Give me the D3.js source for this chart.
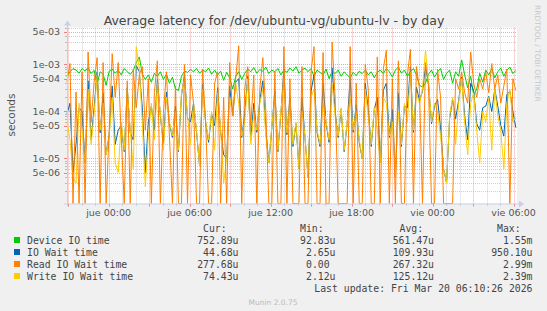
<!DOCTYPE html>
<html>
<head>
<meta charset="utf-8">
<script src="https://cdn.jsdelivr.net/npm/d3@7"></script>
<style>
  body { margin: 0; background: #f0f0f0; }
  svg { display: block; }
  text { font-family: "DejaVu Sans", sans-serif; }
  .mono { font-family: "DejaVu Sans Mono", monospace; white-space: pre; }
</style>
</head>
<body>
<svg id="chart" width="547" height="311"></svg>
<script>
// time window of the "by day" graph (33h20m)
const tStart = new Date(2026, 2, 18, 20, 55);
const tEnd = new Date(2026, 2, 20, 6, 15);
const tLast = new Date(2026, 2, 20, 6, 10);

const seriesNames = ["Device IO time", "IO Wait time", "Read IO Wait time", "Write IO Wait time"];
const seriesColors = ["#00cc00", "#0066b3", "#ff8000", "#ffcc00"];

// values in microseconds left to right
const deviceIO = [550,700,820,760,650,820,720,860,640,750,380,700,620,360,720,800,650,760,600,820,
  700,620,740,1100,1450,620,480,600,420,650,560,700,480,620,400,540,300,280,560,720,
  680,780,700,820,650,760,700,840,620,760,600,720,460,680,520,300,560,700,480,650,
  800,700,860,650,780,720,880,640,760,700,820,600,760,680,840,720,900,650,760,840,
  700,820,560,760,680,600,800,500,720,640,760,560,700,600,520,680,580,720,640,760,
  600,700,520,680,760,640,820,700,540,760,880,650,760,560,700,820,600,360,330,400,
  620,760,540,700,820,480,650,760,400,700,560,1250,600,320,560,220,300,650,420,760,
  600,820,520,700,840,560,760,880,640,753];

const ioWait = [90,150,5,20,120,100,8,450,25,120,700,35,250,12,32,350,20,40,50,14,
  320,35,25,950,700,120,5,60,130,40,500,80,20,260,55,28,130,14,220,600,
  70,60,150,36,7,380,60,22,90,50,320,36,12,10,350,80,420,500,28,90,
  560,25,150,36,170,450,40,8,45,280,14,90,800,32,200,18,55,6,200,28,
  4,270,600,36,18,400,55,22,850,100,28,110,14,55,500,36,140,22,10,400,
  110,18,110,200,8,280,400,28,110,4,250,18,130,120,900,36,330,170,270,900,
  390,55,130,180,45,6,3,70,180,70,170,540,80,25,400,270,55,40,120,130,
  210,100,300,130,50,30,230,270,100,45];

const readWait = [430,1050,0,260,0,700,0,1850,60,420,1400,0,1100,0,40,1700,200,1100,30,0,
  450,0,800,120,600,900,40,500,0,250,1200,0,90,700,30,0,350,0,0,1000,
  0,600,150,0,0,800,60,0,0,400,700,0,200,0,1100,80,500,2500,0,300,
  900,50,600,0,300,1400,100,0,0,700,0,0,2400,0,500,0,0,0,900,0,
  0,700,2400,0,0,1800,0,0,3000,200,0,0,0,0,2400,0,400,0,0,1000,
  300,0,0,1450,0,800,2000,0,500,0,1200,0,0,600,2100,0,900,300,0,1100,
  350,0,0,800,200,0,0,0,0,500,300,700,250,150,1850,400,200,500,300,700,
  250,1050,300,600,150,350,800,0,500,278];

const writeWait = [60,25,4,3,150,40,8,300,20,90,600,40,150,12,30,200,8,5,60,15,
  300,40,6,2400,800,60,2.5,30,150,25,400,90,15,200,60,30,100,15,250,500,
  80,20,150,40,7,300,60,25,100,15,250,40,3,10,200,80,400,150,30,60,
  500,20,90,40,150,300,30,8,50,200,15,100,500,35,150,20,60,6,100,30,
  4,200,300,40,20,150,60,25,400,80,30,120,15,60,200,40,100,25,10,300,
  80,20,120,40,8,200,150,30,60,4,100,20,150,60,700,40,250,150,300,2000,
  400,60,150,100,30,6,3,80,200,20,150,500,60,12,150,250,40,8,100,60,
  200,15,300,80,40,6,150,300,60,74];

// drawing order: green, blue, yellow, then orange on top
const drawOrder = [0, 1, 3, 2];
const seriesValues = [deviceIO, ioWait, readWait, writeWait];

// legend columns
const legendCur = ["752.89u", "44.68u", "277.68u", "74.43u"];
const legendMin = ["92.83u", "2.65u", "0.00 ", "2.12u"];
const legendAvg = ["561.47u", "109.93u", "267.32u", "125.12u"];
const legendMax = ["1.55m", "950.10u", "2.99m", "2.39m"];

const yTickValues = [5e-3, 1e-3, 5e-4, 1e-4, 5e-5, 1e-5, 5e-6];
const yTickLabels = ["5e-03", "1e-03", "5e-04", "1e-04", "5e-05", "1e-05", "5e-06"];

const esLocale = d3.timeFormatLocale({
  dateTime: "%A, %e de %B de %Y, %X", date: "%d/%m/%Y", time: "%H:%M:%S",
  periods: ["AM", "PM"],
  days: ["domingo", "lunes", "martes", "miércoles", "jueves", "viernes", "sábado"],
  shortDays: ["dom", "lun", "mar", "mié", "jue", "vie", "sáb"],
  months: ["enero","febrero","marzo","abril","mayo","junio","julio","agosto","septiembre","octubre","noviembre","diciembre"],
  shortMonths: ["ene","feb","mar","abr","may","jun","jul","ago","sep","oct","nov","dic"]
});
const fmtTick = esLocale.format("%a %H:%M");

const svg = d3.select("#chart");
const plotLeft = 67, plotRight = 517, plotTop = 27.5, plotBottom = 203.5;

svg.append("rect").attr("width", 547).attr("height", 311).attr("fill", "#f0f0f0");
svg.append("rect").attr("x", plotLeft).attr("y", plotTop).attr("width", plotRight - plotLeft)
  .attr("height", plotBottom - plotTop).attr("fill", "#fff");

const x = d3.scaleTime().domain([tStart, tEnd]).range([plotLeft, plotRight]);
const y = d3.scaleLog().domain([1.1e-6, 6.13e-3]).range([plotBottom, plotTop]).clamp(true);

const majorGrid = "rgba(240,80,80,0.5)";
const minorGrid = "rgba(150,150,150,0.45)";
const grid = svg.append("g");
// vertical grid: minor every hour, major every 3h
const hours = d3.timeHour.every(1).range(tStart, tEnd);
hours.forEach(h => {
  const major = h.getHours() % 3 === 0;
  const px = Math.round(x(h)) + 0.5;
  grid.append("line").attr("x1", px).attr("x2", px).attr("y1", plotTop).attr("y2", plotBottom)
    .attr("stroke", major ? majorGrid : minorGrid).attr("stroke-dasharray", "1,1");
  grid.append("line").attr("x1", px).attr("x2", px).attr("y1", plotBottom).attr("y2", plotBottom + (major ? 3 : 2))
    .attr("stroke", major ? "rgba(240,80,80,0.7)" : "rgba(150,150,150,0.6)");
});

// horizontal grid on the log scale
[1e-6, 1e-5, 1e-4, 1e-3].forEach(dec => {
  d3.range(1, 10).forEach(m => {
    const v = dec * m;
    if (v < y.domain()[0] || v > y.domain()[1]) return;
    const major = m === 1 || m === 5;
    const py = Math.round(y(v)) + 0.5;
    grid.append("line").attr("x1", plotLeft).attr("x2", plotRight).attr("y1", py).attr("y2", py)
      .attr("stroke", major ? majorGrid : minorGrid).attr("stroke-dasharray", "1,1");
    grid.append("line").attr("x1", plotLeft - (major ? 3 : 2)).attr("x2", plotLeft).attr("y1", py).attr("y2", py)
      .attr("stroke", major ? "rgba(240,80,80,0.7)" : "rgba(150,150,150,0.6)");
  });
});

// series lines
const step = (tLast - tStart) / (deviceIO.length - 1);
const line = d3.line()
  .x((d, i) => x(new Date(tStart.getTime() + i * step)))
  .y(d => y(Math.max(d * 1e-6, y.domain()[0])));

drawOrder.forEach(k => {
  svg.append("path").datum(seriesValues[k]).attr("d", line)
    .attr("fill", "none").attr("stroke", seriesColors[k]).attr("stroke-width", 1);
});

// axes
const axisColor = "#c8cfee";
svg.append("line").attr("x1", plotLeft - 3).attr("x2", plotRight + 4).attr("y1", plotBottom + 0.5).attr("y2", plotBottom + 0.5).attr("stroke", axisColor);
svg.append("path").attr("d", `M${plotRight + 2},${plotBottom - 3} L${plotRight + 7},${plotBottom + 0.5} L${plotRight + 2},${plotBottom + 4}Z`).attr("fill", axisColor);
svg.append("line").attr("x1", plotLeft + 0.5).attr("x2", plotLeft + 0.5).attr("y1", plotBottom + 3).attr("y2", plotTop - 4).attr("stroke", axisColor);
svg.append("path").attr("d", `M${plotLeft - 3},${plotTop - 2} L${plotLeft + 0.5},${plotTop - 7} L${plotLeft + 4},${plotTop - 2}Z`).attr("fill", axisColor);

// tick labels
const xTicks = d3.timeHour.every(6).range(tStart, tEnd);
svg.append("g").selectAll("text").data(xTicks).join("text")
  .attr("x", d => x(d)).attr("y", 216)
  .attr("text-anchor", "middle").attr("font-size", "9.5px").attr("fill", "#555")
  .text(d => fmtTick(d));

svg.append("g").selectAll("text").data(yTickValues).join("text")
  .attr("x", 60).attr("y", d => y(d) + 3.5)
  .attr("text-anchor", "end").attr("font-size", "9.5px").attr("fill", "#555")
  .text((d, i) => yTickLabels[i]);

// titles
svg.append("text").attr("x", 274).attr("y", 24.5).attr("text-anchor", "middle")
  .attr("font-size", "12.5px").attr("fill", "#444")
  .text("Average latency for /dev/ubuntu-vg/ubuntu-lv - by day");
svg.append("text").attr("transform", "translate(15,115) rotate(-90)").attr("text-anchor", "middle")
  .attr("font-size", "10.5px").attr("fill", "#555").text("seconds");
svg.append("text").attr("transform", "translate(535,5) rotate(90)").attr("text-anchor", "start")
  .attr("font-size", "7.5px").attr("fill", "#c8c8c8").text("RRDTOOL / TOBI OETIKER");

// legend
const lg = svg.append("g").attr("class", "mono").attr("font-size", "9.8px").attr("fill", "#444");
const headY = 232;
[["Cur:", 203], ["Min:", 300], ["Avg:", 399.5], ["Max:", 497]].forEach(([t, px]) => {
  lg.append("text").attr("class", "mono").attr("x", px).attr("y", headY).text(t);
});
seriesNames.forEach((name, k) => {
  const by = 244 + k * 12;
  svg.append("rect").attr("x", 14).attr("y", by - 7).attr("width", 6).attr("height", 6).attr("fill", seriesColors[k]);
  lg.append("text").attr("class", "mono").attr("x", 27).attr("y", by).text(name);
  [[legendCur, 238.5], [legendMin, 335.5], [legendAvg, 434], [legendMax, 532.5]].forEach(([col, px]) => {
    lg.append("text").attr("class", "mono").attr("x", px).attr("y", by).attr("text-anchor", "end").text(col[k]);
  });
});
lg.append("text").attr("class", "mono").attr("x", 532.5).attr("y", 292).attr("text-anchor", "end")
  .text("Last update: Fri Mar 20 06:10:26 2026");

svg.append("text").attr("x", 273).attr("y", 305).attr("text-anchor", "middle")
  .attr("font-size", "7.5px").attr("fill", "#bbb").text("Munin 2.0.75");
</script>
</body>
</html>
